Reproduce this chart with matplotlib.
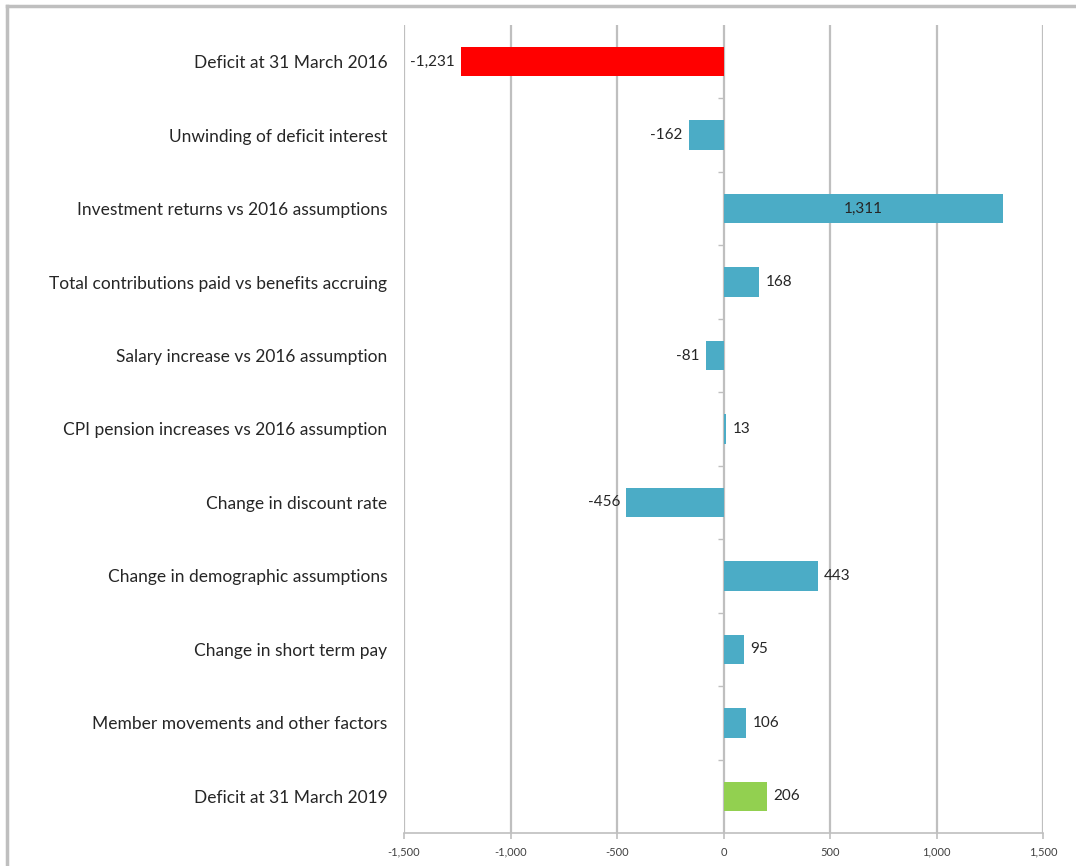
import matplotlib
matplotlib.use("Agg")
import matplotlib.pyplot as plt
from matplotlib.lines import Line2D
import numpy as np

categories = [
    "Deficit at 31 March 2016",
    "Unwinding of deficit interest",
    "Investment returns vs 2016 assumptions",
    "Total contributions paid vs benefits accruing",
    "Salary increase vs 2016 assumption",
    "CPI pension increases vs 2016 assumption",
    "Change in discount rate",
    "Change in demographic assumptions",
    "Change in short term pay",
    "Member movements and other factors",
    "Deficit at 31 March 2019",
]
values = [-1231, -162, 1311, 168, -81, 13, -456, 443, 95, 106, 206]
x_ticks = [-1500, -1000, -500, 0, 500, 1000, 1500]
x_tick_labels = ["-1,500", "-1,000", "-500", "0", "500", "1,000", "1,500"]

RED = "#FF0000"
BLUE = "#4BACC6"
GREEN = "#92D050"
GRID = "#BFBFBF"
TEXT = "#262626"
colors = [RED] + [BLUE] * (len(values) - 2) + [GREEN]

plt.rcParams["font.family"] = ["Lato", "DejaVu Sans"]

fig = plt.figure(figsize=(10.76, 8.66), dpi=100)
ax = fig.add_axes([404 / 1076, 1 - 833 / 866, (1043 - 404) / 1076, (833 - 25) / 866])

y = np.arange(len(categories))
ax.barh(y, values, height=0.4, color=colors, zorder=3)

ax.set_xlim(-1500, 1500)
ax.set_ylim(len(categories) - 0.5, -0.5)

ax.set_xticks(x_ticks)
ax.set_xticklabels(x_tick_labels, fontsize=8, color="#404040")
ax.set_yticks(y)
ax.set_yticklabels(categories, fontsize=12.5, color=TEXT)
ax.tick_params(axis="y", length=0, pad=12)
ax.tick_params(axis="x", length=4, width=1.2, color=GRID, pad=6, direction="out")

ax.grid(axis="x", color=GRID, linewidth=1.6, zorder=0)
for s in ["top", "right", "left"]:
    ax.spines[s].set_visible(False)
ax.spines["bottom"].set_color(GRID)
ax.spines["bottom"].set_linewidth(1.2)

# small category-boundary ticks on the zero line
bounds = np.arange(len(categories) + 1) - 0.5
ax.hlines(bounds[1:-1], -25, 0, color=GRID, linewidth=1.0, zorder=2)

for yi, v in zip(y, values):
    lbl = f"{v:,}"
    if v > 1000:
        ax.text(v / 2, yi, lbl, ha="center", va="center", fontsize=11, color=TEXT, zorder=4)
    elif v < 0:
        ax.text(v - 30, yi, lbl, ha="right", va="center", fontsize=11, color=TEXT, zorder=4)
    else:
        ax.text(v + 30, yi, lbl, ha="left", va="center", fontsize=11, color=TEXT, zorder=4)

# outer frame lines (top and left)
fig.add_artist(Line2D([7 / 1076, 1], [1 - 6 / 866, 1 - 6 / 866], transform=fig.transFigure,
                      color="#BFBFBF", linewidth=2.5))
fig.add_artist(Line2D([7 / 1076, 7 / 1076], [0, 1 - 6 / 866], transform=fig.transFigure,
                      color="#BFBFBF", linewidth=2.5))

fig.savefig("out.png", dpi=100)
